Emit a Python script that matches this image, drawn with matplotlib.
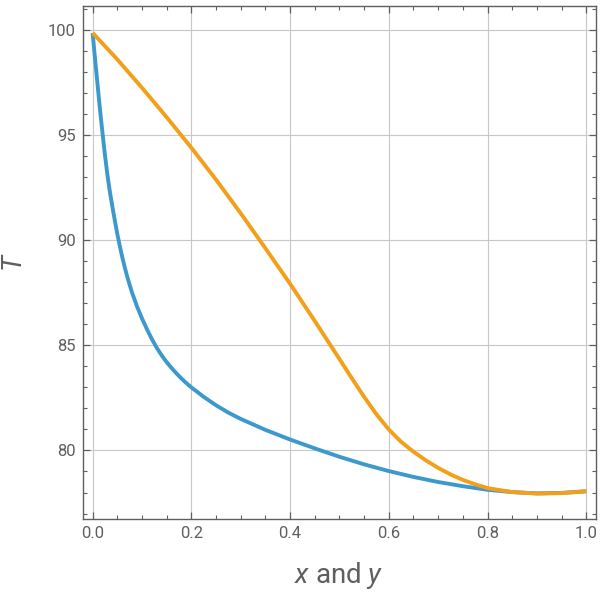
import matplotlib

matplotlib.use("Agg")
import matplotlib.pyplot as plt  # noqa: E402
from matplotlib.ticker import MultipleLocator  # noqa: E402

# values
x_blue = [0.0, 0.005, 0.01, 0.015, 0.02, 0.025, 0.03, 0.035, 0.04, 0.045, 0.05,
          0.055, 0.06, 0.065, 0.07, 0.075, 0.08, 0.09, 0.10, 0.11, 0.12, 0.13,
          0.14, 0.15, 0.16, 0.17, 0.18, 0.19, 0.20, 0.225, 0.25, 0.275, 0.30,
          0.35, 0.40, 0.45, 0.50, 0.55, 0.60, 0.65, 0.70, 0.75, 0.80, 0.85,
          0.90, 0.95, 1.0]
t_blue = [99.86, 98.6, 97.4, 96.2, 95.1, 94.05, 93.1, 92.3, 91.6, 90.93, 90.3,
          89.73, 89.2, 88.72, 88.28, 87.88, 87.5, 86.85, 86.28, 85.77, 85.3, 84.88,
          84.52, 84.2, 83.92, 83.66, 83.42, 83.2, 83.0, 82.55, 82.15, 81.8, 81.5,
          80.98, 80.52, 80.1, 79.7, 79.34, 79.02, 78.74, 78.5, 78.3, 78.13, 78.02,
          77.96, 77.98, 78.06]

x_orange = [0.0, 0.05, 0.10, 0.15, 0.20, 0.25, 0.30, 0.35, 0.40, 0.45, 0.50,
            0.525, 0.55, 0.575, 0.60, 0.625, 0.65, 0.675, 0.70, 0.725, 0.75,
            0.775, 0.80, 0.85, 0.90, 0.95, 1.0]
t_orange = [99.86, 98.6, 97.25, 95.85, 94.4, 92.88, 91.28, 89.62, 87.93, 86.16, 84.35,
            83.44, 82.55, 81.72, 81.0, 80.41, 79.94, 79.53, 79.17, 78.86, 78.6,
            78.39, 78.21, 78.02, 77.95, 77.97, 78.06]

plt.rcParams["font.family"] = ["Roboto", "DejaVu Sans"]
plt.rcParams["mathtext.fontset"] = "custom"
plt.rcParams["mathtext.rm"] = "Roboto"
plt.rcParams["mathtext.it"] = "Roboto:italic"

gray = "#5f5f5f"
fig = plt.figure(figsize=(6, 6), dpi=100)
ax = fig.add_axes([0.1375, 0.135, 0.856, 0.855])

ax.plot(x_blue, t_blue, color="#3d99cc", lw=2.8, solid_capstyle="butt")
ax.plot(x_orange, t_orange, color="#f2a01a", lw=2.8, solid_capstyle="butt")

ax.set_xlim(-0.0205, 1.02)
ax.set_ylim(76.74, 101.14)
ax.xaxis.set_major_locator(MultipleLocator(0.2))
ax.xaxis.set_minor_locator(MultipleLocator(0.05))
ax.yaxis.set_major_locator(MultipleLocator(5))
ax.yaxis.set_minor_locator(MultipleLocator(1))
ax.xaxis.set_major_formatter(lambda v, p: f"{v:.1f}")

ax.grid(True, which="major", color="#c8c8c8", lw=0.8)
ax.set_axisbelow(True)
ax.tick_params(which="both", direction="in", top=True, right=True, color=gray,
               labelcolor=gray, labelsize=12)
ax.tick_params(which="major", length=5, width=0.9, pad=5)
ax.tick_params(which="minor", length=3, width=0.8)
for s in ax.spines.values():
    s.set_color(gray)
    s.set_linewidth(1.0)

ax.set_xlabel("$x$ and $y$", fontsize=20, color=gray, labelpad=14)
ax.set_ylabel("$T$", fontsize=20, color=gray, labelpad=14)

fig.savefig("out.png", dpi=100)
